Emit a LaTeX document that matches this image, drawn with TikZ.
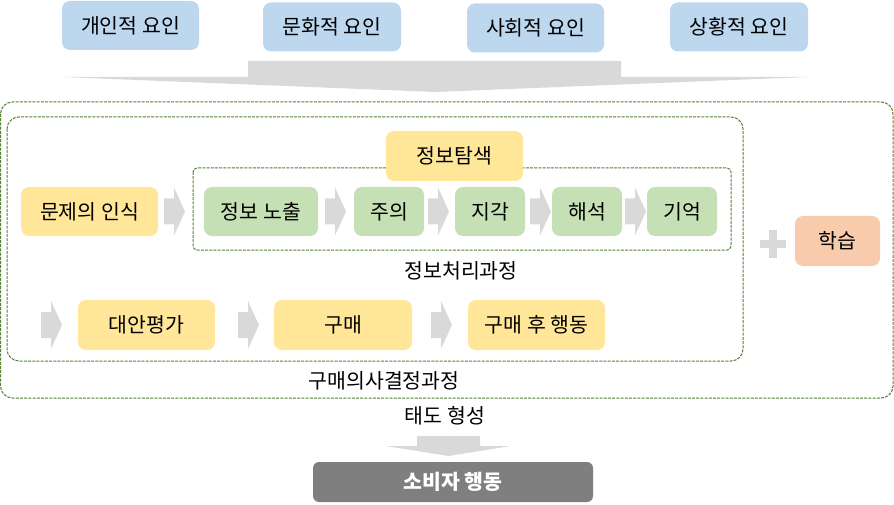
\documentclass[tikz,border=0pt]{standalone}
\usepackage{fontspec}
\setmainfont{Noto Sans CJK KR}
\usetikzlibrary{calc}
\definecolor{cblue}{HTML}{BDD7EE}
\definecolor{cyellow}{HTML}{FFE699}
\definecolor{cgreen}{HTML}{C5E0B4}
\definecolor{corange}{HTML}{F8CBAD}
\definecolor{cgray}{HTML}{D9D9D9}
\definecolor{cdark}{HTML}{7F7F7F}
\definecolor{cdash}{HTML}{548235}
\newcommand{\blockarr}[2]{%
  \fill[cgray] (#1,#2-13) -- (#1+10,#2-13) -- (#1+10,#2-24) -- (#1+21,#2) -- (#1+10,#2+24) -- (#1+10,#2+13) -- (#1,#2+13) -- cycle;}
\begin{document}
\begin{tikzpicture}[x=1pt,y=-1pt,
  box/.style={rounded corners=8pt, inner sep=0pt, font=\fontsize{20.5}{22}\selectfont, text=black},
  bluebox/.style={box, fill=cblue, minimum height=49pt},
  ybox/.style={box, fill=cyellow, minimum height=49pt},
  gbox/.style={box, fill=cgreen, minimum height=49pt},
  obox/.style={box, fill=corange, minimum height=50pt},
  frame/.style={draw=cdash, dash pattern=on 3pt off 1.2pt, line width=1pt},
  lbl/.style={inner sep=0pt, font=\fontsize{20.5}{22}\selectfont}]
\useasboundingbox (0,0) rectangle (894,505);
% factors
\node[bluebox, minimum width=137pt] (f1) at (130.5,25.5) {개인적 요인};
\node[bluebox, minimum width=138pt] (f2) at (332,27) {문화적 요인};
\node[bluebox, minimum width=137pt] (f3) at (535.5,28) {사회적 요인};
\node[bluebox, minimum width=138pt] (f4) at (739,27) {상황적 요인};
% big arrow
\fill[cgray] (62,77) -- (248,77) -- (248,61) -- (621,61) -- (621,77) -- (808,77) -- (435,92) -- cycle;
% frames
\draw[frame, rounded corners=12pt] (0.5,102) rectangle (893,398);
\draw[frame, rounded corners=12pt] (7,117) rectangle (743,361);
\draw[frame, rounded corners=4pt] (193,168) rectangle (731,250);
% info search
\node[ybox, minimum width=137pt, minimum height=50pt] (search) at (454.5,156) {정보탐색};
% row 1
\node[ybox, minimum width=137pt] (prob) at (89.5,211.5) {문제의 인식};
\node[gbox, minimum width=114pt] (expo) at (261,211.5) {정보 노출};
\node[gbox, minimum width=70pt] (attn) at (389,211.5) {주의};
\node[gbox, minimum width=70pt] (perc) at (490,211.5) {지각};
\node[gbox, minimum width=70pt] (interp) at (587,211.5) {해석};
\node[gbox, minimum width=70pt] (mem) at (682,211.5) {기억};
\blockarr{164}{211.5}
\blockarr{325}{211.5}
\blockarr{428}{211.5}
\blockarr{530}{211.5}
\blockarr{625}{211.5}
\node[lbl] (iplabel) at (461,271) {정보처리과정};
% row 2
\blockarr{41}{325}
\node[ybox, minimum width=137pt, minimum height=50pt] (alt) at (146.5,325) {대안평가};
\blockarr{238}{325}
\node[ybox, minimum width=138pt, minimum height=50pt] (buy) at (343,325) {구매};
\blockarr{431}{325}
\node[ybox, minimum width=137pt, minimum height=50pt] (post) at (536.5,325) {구매 후 행동};
\node[lbl] (pdlabel) at (384,381) {구매의사결정과정};
% plus and learning
\fill[cgray] (760,240) rectangle (786,248);
\fill[cgray] (769,230) rectangle (777,258);
\node[obox, minimum width=85pt] (learn) at (837.5,241) {학습};
% attitude
\node[lbl] (att) at (445,416) {태도 형성};
\fill[cgray] (417,436) -- (480,436) -- (480,446) -- (511,446) -- (448.5,456) -- (386,446) -- (417,446) -- cycle;
\node[box, rounded corners=6pt, fill=cdark, text=white, minimum width=280pt, minimum height=40pt, font=\fontsize{20.5}{22}\selectfont\bfseries] (cons) at (453,482) {소비자 행동};
\end{tikzpicture}
\end{document}
